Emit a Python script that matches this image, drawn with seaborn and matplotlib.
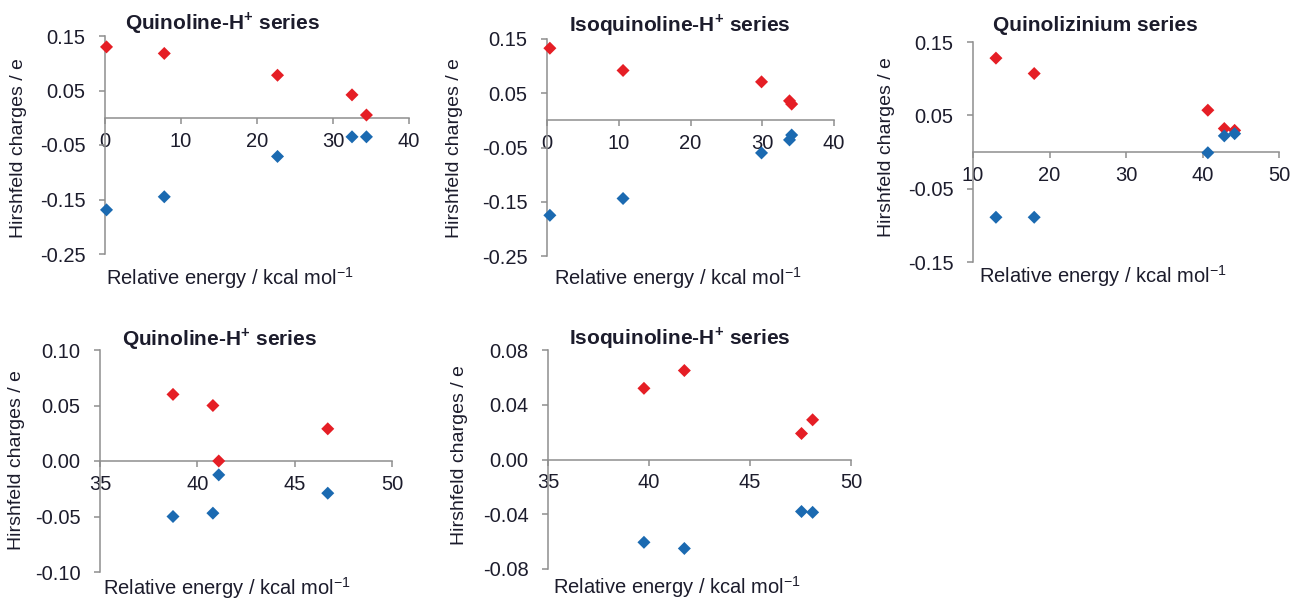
"""
Hirshfeld charges vs relative energy for the protonated quinoline,
isoquinoline and quinolizinium series (five small scatter panels).
"""

import pandas as pd
import matplotlib
matplotlib.use('Agg')
import matplotlib.pyplot as plt
import seaborn as sns


# --- data ---------------------------------------------------------------
# top row
quin_energy = [0.2, 7.8, 22.7, 32.5, 34.4]
quin_red = [0.130, 0.118, 0.078, 0.042, 0.005]
quin_blue = [-0.169, -0.145, -0.071, -0.035, -0.035]

isoq_energy = [0.4, 10.6, 29.9, 33.8, 34.1]
isoq_red = [0.133, 0.092, 0.071, 0.036, 0.030]
isoq_blue = [-0.175, -0.144, -0.060, -0.036, -0.027]

qlz_energy = [13.0, 18.0, 40.7, 42.85, 44.2]
qlz_red = [0.128, 0.107, 0.057, 0.032, 0.0295]
qlz_blue = [-0.089, -0.089, -0.001, 0.022, 0.025]

# bottom row
quin2_energy = [38.75, 40.8, 41.1, 46.7]
quin2_red = [0.060, 0.050, 0.000, 0.029]
quin2_blue = [-0.050, -0.047, -0.0125, -0.029]

isoq2_energy = [39.75, 41.75, 47.55, 48.1]
isoq2_red = [0.052, 0.065, 0.019, 0.029]
isoq2_blue = [-0.0605, -0.065, -0.038, -0.0386]

TITLES = [r'Quinoline-H$^{\mathbf{+}}$ series',
          r'Isoquinoline-H$^{\mathbf{+}}$ series',
          'Quinolizinium series',
          r'Quinoline-H$^{\mathbf{+}}$ series',
          r'Isoquinoline-H$^{\mathbf{+}}$ series']
X_TICKS = [[0, 10, 20, 30, 40], [0, 10, 20, 30, 40], [10, 20, 30, 40, 50],
           [35, 40, 45, 50], [35, 40, 45, 50]]
Y_TICKS = [[-0.25, -0.15, -0.05, 0.05, 0.15], [-0.25, -0.15, -0.05, 0.05, 0.15],
           [-0.15, -0.05, 0.05, 0.15], [-0.10, -0.05, 0.00, 0.05, 0.10],
           [-0.08, -0.04, 0.00, 0.04, 0.08]]
XLABEL = r'Relative energy / kcal mol$^{-1}$'
YLABEL = 'Hirshfeld charges / e'

# --- layout (pixels of a 1290x599 canvas) ---------------------------------
W, H = 1290, 599
RECTS = [(105, 36, 304, 218), (547, 39, 287, 217), (973, 42, 306, 220),
         (100, 350, 292, 222), (548, 350, 303, 219)]
TITLE_POS = [(0.388, 1.06), (0.463, 1.064), (0.40, 1.077), (0.41, 1.05), (0.436, 1.055)]
XLAB_POS = [(0.41, -0.05), (0.456, -0.041), (0.425, -0.005), (0.435, -0.012), (0.426, -0.022)]
YLAB_POS = [(-0.257, 0.486), (-0.293, 0.498), (-0.255, 0.523), (-0.257, 0.505), (-0.264, 0.52)]

RED = '#E51E25'
BLUE = '#1B6AB1'
GREY = '#8E8E8E'
TEXT = '#1c1c2c'


def make_frame(energy, red, blue):
    df = pd.DataFrame({
        'energy': list(energy) * 2,
        'charge': list(red) + list(blue),
        'site': ['red'] * len(red) + ['blue'] * len(blue),
    })
    return df


def style_axes(ax, xticks, yticks):
    ax.set_xlim(xticks[0], xticks[-1])
    ax.set_ylim(yticks[0], yticks[-1])
    ax.set_xticks(xticks)
    ax.set_yticks(yticks)
    ax.set_xticklabels([str(t) for t in xticks])
    ax.set_yticklabels([f'{t:.2f}' for t in yticks])
    for side in ['top', 'right']:
        ax.spines[side].set_visible(False)
    ax.spines['bottom'].set_position(('data', 0))
    for side in ['left', 'bottom']:
        ax.spines[side].set_color(GREY)
        ax.spines[side].set_linewidth(1.1)
    ax.tick_params(axis='both', direction='out', length=4, width=1.1,
                   color=GREY, labelcolor=TEXT, labelsize=14.5)
    ax.tick_params(axis='x', pad=6)
    ax.tick_params(axis='y', pad=10)


def main():
    sns.set_style('ticks')
    plt.rcParams['font.family'] = ['Liberation Sans', 'DejaVu Sans']
    plt.rcParams['mathtext.fontset'] = 'custom'
    plt.rcParams['mathtext.rm'] = 'Liberation Sans'
    plt.rcParams['mathtext.bf'] = 'Liberation Sans:bold'
    plt.rcParams['axes.unicode_minus'] = False

    frames = [
        make_frame(quin_energy, quin_red, quin_blue),
        make_frame(isoq_energy, isoq_red, isoq_blue),
        make_frame(qlz_energy, qlz_red, qlz_blue),
        make_frame(quin2_energy, quin2_red, quin2_blue),
        make_frame(isoq2_energy, isoq2_red, isoq2_blue),
    ]

    fig = plt.figure(figsize=(W / 100, H / 100), dpi=100)
    for i, df in enumerate(frames):
        x0, y0, w, h = RECTS[i]
        ax = fig.add_axes([x0 / W, 1 - (y0 + h) / H, w / W, h / H])
        sns.scatterplot(data=df, x='energy', y='charge', hue='site',
                        palette={'red': RED, 'blue': BLUE}, marker='D',
                        s=44, linewidth=0, legend=False, clip_on=False,
                        zorder=3, ax=ax)
        style_axes(ax, X_TICKS[i], Y_TICKS[i])

        tx, ty = TITLE_POS[i]
        ax.set_title(TITLES[i], x=tx, y=ty, pad=0, va='center',
                     fontsize=15, fontweight='bold', color=TEXT)
        ax.set_xlabel(XLABEL, fontsize=14.5, color=TEXT)
        ax.xaxis.set_label_coords(*XLAB_POS[i])
        ax.set_ylabel(YLABEL, fontsize=14, color=TEXT)
        ax.yaxis.set_label_coords(*YLAB_POS[i])

    fig.savefig('out.png', dpi=100)
    plt.close(fig)


if __name__ == '__main__':
    main()
